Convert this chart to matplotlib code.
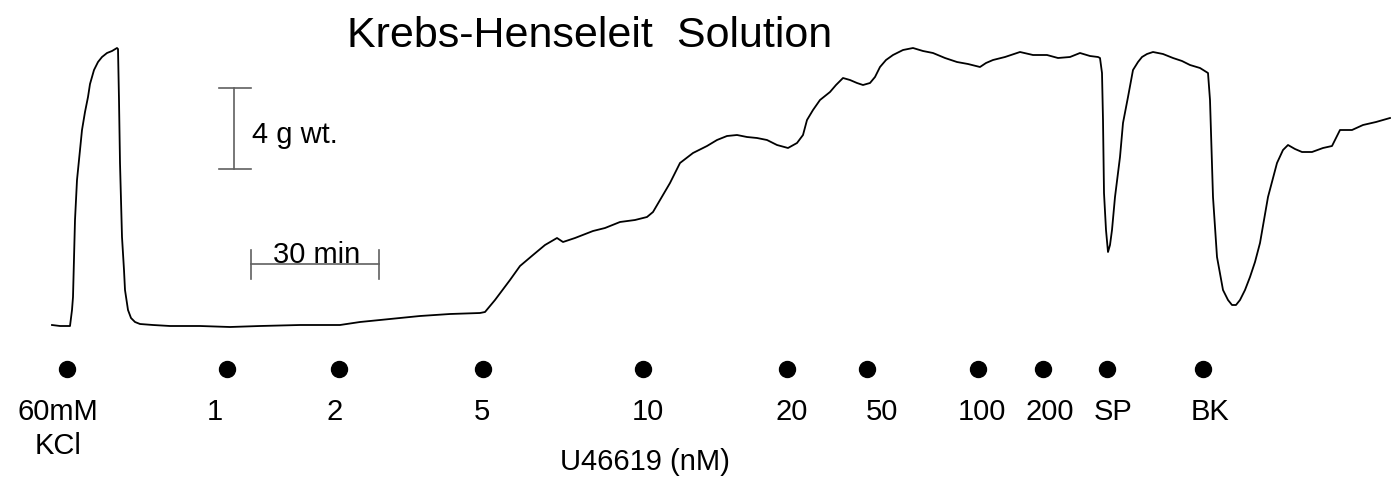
import matplotlib.pyplot as plt

plt.rcParams['font.family'] = ['Liberation Sans', 'DejaVu Sans']

# trace (x = chart position, y = tension position, pixel units)
trace_x = [52, 60, 70, 72, 73, 75, 77, 80, 82, 85, 88, 90, 94, 98, 102, 107, 112, 117,
           118, 119, 120, 122, 124, 125, 128, 131, 135, 140, 153, 170, 200, 230, 260,
           300, 340, 360, 380, 400, 420, 450, 480, 485, 495, 510, 520, 533, 545, 557,
           563, 575, 593, 605, 620, 635, 647, 653, 660, 670, 680, 693, 707, 717, 727,
           737, 747, 757, 767, 777, 788, 797, 803, 807, 813, 820, 830, 836, 843, 850,
           857, 863, 870, 875, 880, 886, 893, 903, 913, 923, 933, 945, 957, 968, 980,
           986, 993, 1005, 1020, 1033, 1047, 1058, 1070, 1080, 1090, 1098, 1100, 1102,
           1103, 1104, 1106, 1108, 1110, 1112, 1115, 1120, 1123, 1128, 1133, 1138, 1142,
           1147, 1153, 1163, 1173, 1182, 1190, 1200, 1208, 1210, 1213, 1217, 1223, 1228,
           1232, 1236, 1240, 1245, 1250, 1255, 1260, 1268, 1277, 1283, 1288, 1295, 1302,
           1312, 1323, 1332, 1340, 1352, 1363, 1376, 1390]
trace_y = [325, 326, 326, 310, 297, 220, 180, 150, 130, 112, 97, 84, 70, 62, 57, 53, 51, 48,
           49, 100, 163, 237, 270, 290, 310, 318, 322, 324, 325, 326, 326, 327, 326,
           325, 325, 322, 320, 318, 316, 314, 313, 312, 300, 280, 266, 255, 245, 238,
           242, 238, 231, 228, 222, 220, 217, 212, 200, 183, 163, 153, 146, 140, 136,
           135, 137, 138, 140, 145, 148, 143, 135, 120, 110, 100, 92, 85, 78, 80,
           83, 85, 83, 77, 67, 60, 55, 50, 48, 51, 53, 58, 62, 64, 67,
           63, 60, 57, 52, 55, 55, 58, 57, 53, 56, 57, 58, 73,
           120, 193, 230, 252, 245, 230, 197, 157, 123, 97, 70, 62, 57,
           54, 52, 54, 58, 61, 65, 68, 73, 100, 197, 257, 290, 300,
           305, 305, 300, 290, 277, 262, 243, 197, 163, 150, 145, 149, 152,
           152, 148, 146, 130, 130, 125, 122, 118]

# drug additions: marker positions and label positions
dose_x = [67, 227, 339, 483, 643, 787, 867, 978, 1043, 1107, 1203]
label_x = [58, 215, 335, 482, 648, 792, 882, 982, 1050, 1113, 1210]
dose_labels = ['60mM', '1', '2', '5', '10', '20', '50', '100', '200', 'SP', 'BK']

fig = plt.figure(figsize=(13.91, 4.78), dpi=100)
ax = fig.add_axes([0, 0, 1, 1])
ax.set_xlim(0, 1391)
ax.set_ylim(478, 0)
ax.axis('off')

ax.plot(trace_x, trace_y, color='black', lw=1.3)

# scale bars
bar_col = '#606060'
ax.plot([234, 234], [88, 169], color=bar_col, lw=1.2)
ax.plot([219, 251], [88, 88], color=bar_col, lw=1.2)
ax.plot([219, 251], [169, 169], color=bar_col, lw=1.2)
ax.text(252, 143, '4 g wt.', fontsize=21, va='baseline', ha='left')

ax.plot([251, 379], [264, 264], color=bar_col, lw=1.2)
ax.plot([251, 251], [250, 279], color=bar_col, lw=1.2)
ax.plot([379, 379], [250, 279], color=bar_col, lw=1.2)
ax.text(317, 263, '30 min', fontsize=21, va='baseline', ha='center')

# additions
ax.plot(dose_x, [369] * len(dose_x), 'o', color='black', markersize=11.5)
for xx, lab in zip(label_x, dose_labels):
    ax.text(xx, 420, lab, fontsize=21, ha='center', va='baseline')
ax.text(58, 454, 'KCl', fontsize=21, ha='center', va='baseline')

ax.text(645, 470, 'U46619 (nM)', fontsize=21, ha='center', va='baseline')
ax.text(590, 47, 'Krebs-Henseleit  Solution', fontsize=31, ha='center', va='baseline')

fig.savefig('out.png', dpi=100)
